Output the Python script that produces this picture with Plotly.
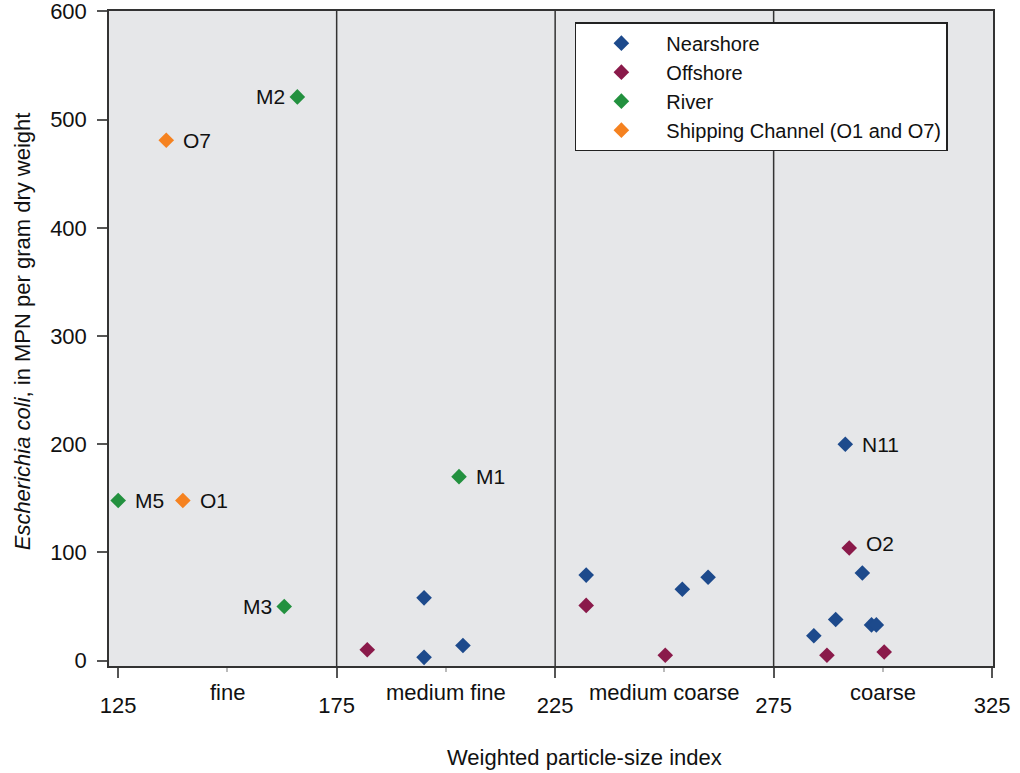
import plotly.graph_objects as go

# Weighted particle-size index (x) and E. coli concentration (y) per station group
nearshore_x = [195.0, 195.0, 203.9, 232.1, 254.1, 260.0, 284.2, 289.2, 291.4, 295.3, 297.4, 298.5]
nearshore_y = [58, 3, 14, 79, 66, 77, 23, 38, 200, 81, 33, 33]
nearshore_lbl = [None, None, None, None, None, None, None, None, "N11", None, None, None]

offshore_x = [182.0, 232.1, 250.2, 287.2, 292.3, 300.3]
offshore_y = [10, 51, 5, 5, 104, 8]
offshore_lbl = [None, None, None, None, "O2", None]

river_x = [125.0, 163.0, 166.0, 203.0]
river_y = [148, 50, 521, 170]
river_lbl = ["M5", "M3", "M2", "M1"]

shipping_x = [136.0, 139.8]
shipping_y = [481, 148]
shipping_lbl = ["O7", "O1"]

# labels drawn to the left of their marker
left_labels = {"M2", "M3"}

# particle-size classes and their boundaries
class_names = ["fine", "medium fine", "medium coarse", "coarse"]
class_centers = [150, 200, 250, 300]
class_bounds = [175, 225, 275]

x_ticks = [125, 175, 225, 275, 325]
y_ticks = [0, 100, 200, 300, 400, 500, 600]

FONT = "Arial, Liberation Sans, sans-serif"
FS = 22

series = [
    ("Nearshore", nearshore_x, nearshore_y, nearshore_lbl, "#1d4a8c"),
    ("Offshore", offshore_x, offshore_y, offshore_lbl, "#8a1a4a"),
    ("River", river_x, river_y, river_lbl, "#23913f"),
    ("Shipping Channel (O1 and O7)", shipping_x, shipping_y, shipping_lbl, "#f58220"),
]

fig = go.Figure()
annotations = []
for name, xs, ys, lbls, color in series:
    fig.add_trace(go.Scatter(
        x=xs, y=ys, mode="markers", name=name,
        marker=dict(symbol="diamond", size=12, color=color, line=dict(width=0)),
    ))
    for x, y, lbl in zip(xs, ys, lbls):
        if lbl is None:
            continue
        left = lbl in left_labels
        annotations.append(dict(
            x=x, y=y, xref="x", yref="y", text=lbl, showarrow=False,
            xanchor="right" if left else "left",
            xshift=-10 if left else 15,
            yshift=5 if lbl == "O2" else 0,
            font=dict(size=21, color="#111", family=FONT),
        ))

# class names beneath the axis
for name, cx in zip(class_names, class_centers):
    annotations.append(dict(
        x=cx, y=0, xref="x", yref="paper", text=name, showarrow=False,
        xanchor="center", yanchor="middle", yshift=-26,
        font=dict(size=FS, color="#111", family=FONT),
    ))

annotations.append(dict(
    x=0.538, y=0, xref="paper", yref="paper", text="Weighted particle-size index",
    showarrow=False, xanchor="center", yanchor="middle", yshift=-91,
    font=dict(size=FS, color="#111", family=FONT),
))
annotations.append(dict(
    x=0, y=0.511, xref="paper", yref="paper",
    text="<i>Escherichia coli</i>, in MPN per gram dry weight",
    showarrow=False, textangle=-90, xanchor="center", yanchor="middle", xshift=-87,
    font=dict(size=FS, color="#111", family=FONT),
))

shapes = [
    dict(type="line", x0=b, x1=b, y0=0, y1=1, xref="x", yref="paper",
         line=dict(color="#333", width=1.5), layer="below")
    for b in class_bounds
]

fig.update_layout(
    width=1020, height=773,
    margin=dict(l=109, r=27, t=11, b=107),
    paper_bgcolor="white", plot_bgcolor="#e6e7e9",
    font=dict(family=FONT, size=FS, color="#111"),
    annotations=annotations, shapes=shapes,
    showlegend=True,
    legend=dict(
        x=0.527, y=0.983, xanchor="left", yanchor="top",
        bgcolor="white", bordercolor="#222", borderwidth=1.5,
        font=dict(size=20, family=FONT, color="#111"),
        itemwidth=80, tracegroupgap=0,
    ),
)
fig.update_xaxes(
    range=[122.9, 325.2], tickvals=x_ticks, ticks="outside", ticklen=10,
    tickcolor="#555", tickwidth=1.5, ticklabelstandoff=9,
    showgrid=False, zeroline=False, automargin=False, ticklabeloverflow="allow",
    showline=True, mirror=True, linecolor="#333", linewidth=1.5,
    minor=dict(tickvals=class_centers, ticks="outside", ticklen=4, tickcolor="#bbb"),
    tickfont=dict(size=FS, family=FONT, color="#111"),
)
fig.update_yaxes(
    range=[-5, 600.4], tickvals=y_ticks, ticks="outside", ticklen=10,
    tickcolor="#555", tickwidth=1.5, ticklabelstandoff=6,
    showgrid=False, zeroline=False, automargin=False, ticklabeloverflow="allow",
    showline=True, mirror=True, linecolor="#333", linewidth=1.5,
    tickfont=dict(size=FS, family=FONT, color="#111"),
)

fig.write_html("out.html")
